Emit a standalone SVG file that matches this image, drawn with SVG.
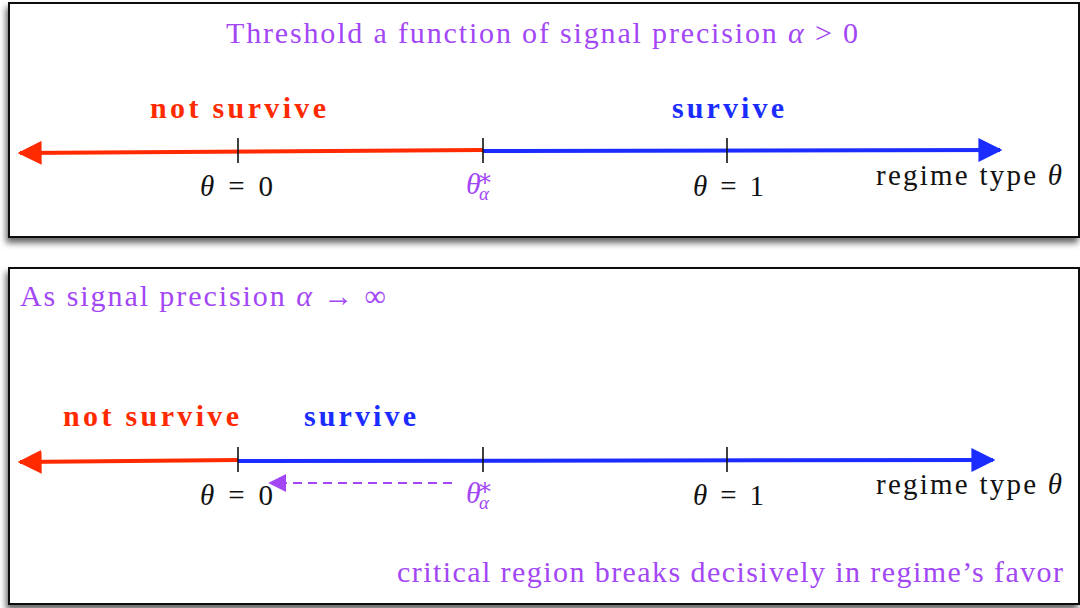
<svg xmlns="http://www.w3.org/2000/svg" width="1080" height="608" viewBox="0 0 1080 608">
<defs>
<filter id="sh" x="-5%" y="-5%" width="110%" height="120%">
<feDropShadow dx="-2" dy="5" stdDeviation="3" flood-color="#000" flood-opacity="0.6"/>
</filter>
<marker id="ab" viewBox="0 0 10 10" refX="9" refY="5" markerWidth="6" markerHeight="6" markerUnits="strokeWidth" orient="auto"><path d="M0,0L10,5L0,10z" fill="#1a2cff"/></marker>
<marker id="ar" viewBox="0 0 10 10" refX="9" refY="5" markerWidth="6" markerHeight="6" markerUnits="strokeWidth" orient="auto"><path d="M0,0L10,5L0,10z" fill="#ff2a00"/></marker>
<marker id="ap" viewBox="0 0 10 10" refX="9" refY="5" markerWidth="9" markerHeight="9" markerUnits="strokeWidth" orient="auto"><path d="M0,0L10,5L0,10z" fill="#a347f5"/></marker>
</defs>
<style>
text{font-family:"Liberation Serif","DejaVu Serif","Noto Serif",serif;font-size:28px}
.p{fill:#a347f5;font-size:30px}
.k{fill:#111;font-size:29px}
.r{fill:#ff2a00;font-weight:bold;font-size:30px}
.b{fill:#1a2cff;font-weight:bold;font-size:30px}
.box{fill:#fff;stroke:#111;stroke-width:2}
.tick{stroke:#111;stroke-width:1.6}
.red{stroke:#ff2a00;stroke-width:4;fill:none}
.blue{stroke:#1a2cff;stroke-width:4;fill:none}
.it{font-style:italic}
</style>
<rect width="1080" height="608" fill="#fff"/>
<g id="panel1">
<rect class="box" x="9" y="3" width="1070" height="234" filter="url(#sh)"/>
<text class="p" x="226" y="43" textLength="632" lengthAdjust="spacing">Threshold a function of signal precision <tspan class="it">α</tspan> &gt; 0</text>
<text class="r" x="150" y="118" textLength="176" lengthAdjust="spacing">not survive</text>
<text class="b" x="672" y="118" textLength="112" lengthAdjust="spacing">survive</text>
</g>
<g id="panel2">
<rect class="box" x="9" y="268" width="1070" height="336" filter="url(#sh)"/>
<text class="p" x="20" y="306" textLength="366" lengthAdjust="spacing">As signal precision <tspan class="it">α</tspan> → ∞</text>
<text class="r" x="63" y="426" textLength="176" lengthAdjust="spacing">not survive</text>
<text class="b" x="304" y="426" textLength="112" lengthAdjust="spacing">survive</text>
<text class="p" x="397" y="582" textLength="666" lengthAdjust="spacing">critical region breaks decisively in regime’s favor</text>
</g>
<g id="connectors">
<line class="red" x1="483" y1="150" x2="20" y2="153" marker-end="url(#ar)"/>
<line class="blue" x1="483" y1="151" x2="1000" y2="150" marker-end="url(#ab)"/>
<line class="red" x1="238" y1="460" x2="20" y2="462" marker-end="url(#ar)"/>
<line class="blue" x1="238" y1="461" x2="993" y2="460" marker-end="url(#ab)"/>
<line x1="452" y1="483" x2="270" y2="483" stroke="#a347f5" stroke-width="2" stroke-dasharray="9,6" marker-end="url(#ap)"/>
</g>
<g id="axis1">
<line class="tick" x1="238" y1="138" x2="238" y2="163"/>
<line class="tick" x1="483" y1="138" x2="483" y2="163"/>
<line class="tick" x1="727" y1="138" x2="727" y2="163"/>
<text class="k" x="200" y="196" textLength="73" lengthAdjust="spacing"><tspan class="it">θ</tspan> = 0</text>
<text class="p" x="466" y="194" font-size="28"><tspan class="it">θ</tspan><tspan dx="-4" dy="-8" font-size="24">∗</tspan><tspan class="it" dx="-14" dy="14" font-size="19">α</tspan></text>
<text class="k" x="693" y="196" textLength="71" lengthAdjust="spacing"><tspan class="it">θ</tspan> = 1</text>
<text class="k" x="876" y="185" textLength="186" lengthAdjust="spacing">regime type <tspan class="it">θ</tspan></text>
</g>
<g id="axis2">
<line class="tick" x1="238" y1="447" x2="238" y2="472"/>
<line class="tick" x1="483" y1="447" x2="483" y2="472"/>
<line class="tick" x1="727" y1="447" x2="727" y2="472"/>
<text class="k" x="200" y="505" textLength="73" lengthAdjust="spacing"><tspan class="it">θ</tspan> = 0</text>
<text class="p" x="466" y="503" font-size="28"><tspan class="it">θ</tspan><tspan dx="-4" dy="-8" font-size="24">∗</tspan><tspan class="it" dx="-14" dy="14" font-size="19">α</tspan></text>
<text class="k" x="693" y="505" textLength="71" lengthAdjust="spacing"><tspan class="it">θ</tspan> = 1</text>
<text class="k" x="876" y="494" textLength="186" lengthAdjust="spacing">regime type <tspan class="it">θ</tspan></text>
</g>
</svg>
